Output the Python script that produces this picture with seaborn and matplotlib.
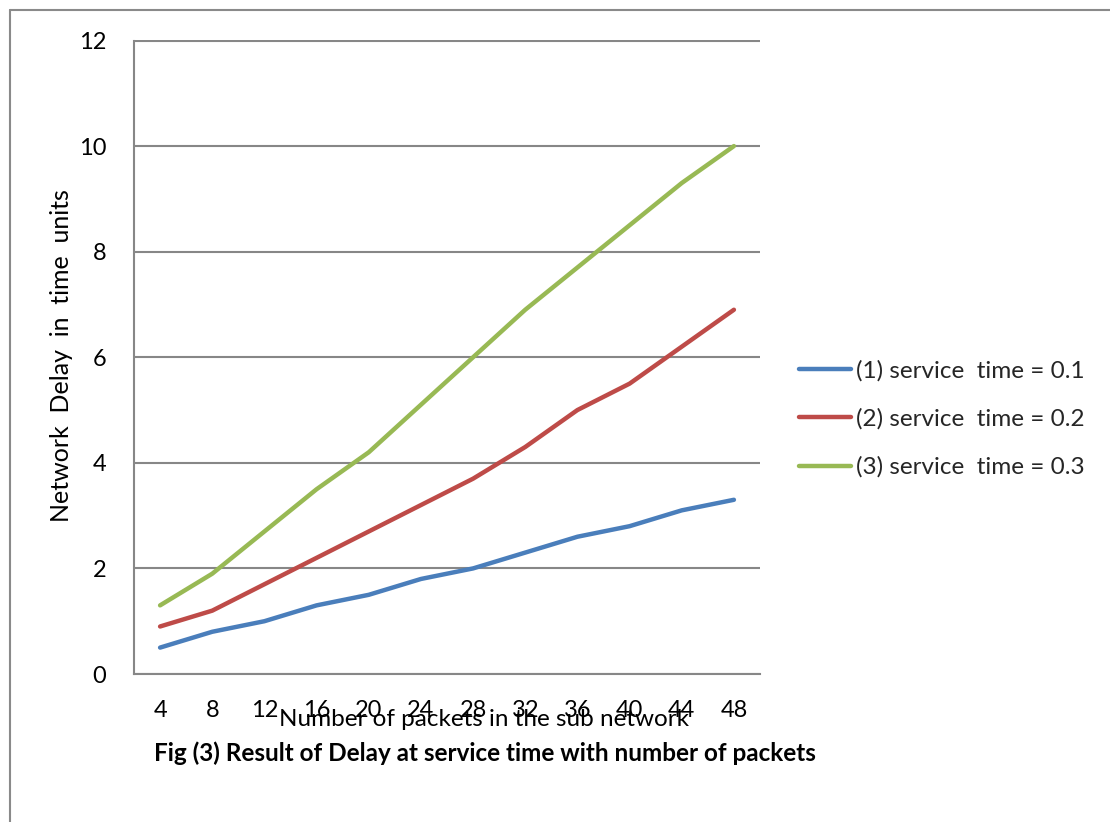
import numpy as np
import pandas as pd
import matplotlib
matplotlib.use("Agg")
import matplotlib.pyplot as plt
from matplotlib.lines import Line2D
import seaborn as sns

# Number of packets in the sub network (category axis)
packets = [4, 8, 12, 16, 20, 24, 28, 32, 36, 40, 44, 48]

# Network delay for each service time
delay_st_01 = [0.5, 0.8, 1.0, 1.3, 1.5, 1.8, 2.0, 2.3, 2.6, 2.8, 3.1, 3.3]
delay_st_02 = [0.9, 1.2, 1.7, 2.2, 2.7, 3.2, 3.7, 4.3, 5.0, 5.5, 6.2, 6.9]
delay_st_03 = [1.3, 1.9, 2.7, 3.5, 4.2, 5.1, 6.0, 6.9, 7.7, 8.5, 9.3, 10.0]

series_names = ["(1) service  time = 0.1",
                "(2) service  time = 0.2",
                "(3) service  time = 0.3"]
series_colors = ["#4A7EBB", "#BE4B48", "#98B954"]

y_ticks = [0, 2, 4, 6, 8, 10, 12]

df = pd.concat([
    pd.DataFrame({"packets": packets, "delay": vals, "series": name})
    for name, vals in zip(series_names, [delay_st_01, delay_st_02, delay_st_03])
], ignore_index=True)

sns.set_style("white")
plt.rcParams["font.family"] = ["Lato", "DejaVu Sans"]

W, H = 1110, 822
fig = plt.figure(figsize=(W / 100, H / 100), dpi=100)
ax = fig.add_axes([134 / W, 1 - 674 / H, (760 - 134) / W, (674 - 40.5) / H])

sns.lineplot(data=df, x="packets", y="delay", hue="series",
             palette=series_colors, linewidth=3.2, ax=ax,
             solid_capstyle="round", legend=False)

grid_col = "#878787"
ax.set_xlim(packets[0] - 2, packets[-1] + 2)
ax.set_ylim(0, 12)
ax.set_yticks(y_ticks)
ax.set_yticklabels([str(t) for t in y_ticks])
ax.yaxis.grid(True, color=grid_col, linewidth=1.5)
ax.xaxis.grid(False)
ax.set_axisbelow(True)

# Category labels at centres, tick marks on the category boundaries
ax.set_xticks(packets)
ax.set_xticklabels([str(p) for p in packets])
ax.set_xticks(np.arange(packets[0] - 2, packets[-1] + 3, 4), minor=True)
ax.tick_params(axis="x", which="major", length=0, pad=18.5, labelsize=17, colors="black")
ax.tick_params(axis="x", which="minor", length=7, width=1.5, color=grid_col, direction="out")
ax.tick_params(axis="y", which="major", length=7, width=1.5, color=grid_col,
               direction="out", pad=13, labelsize=17, labelcolor="black")

for side in ["top", "right"]:
    ax.spines[side].set_visible(False)
for side in ["left", "bottom"]:
    ax.spines[side].set_visible(True)
    ax.spines[side].set_color(grid_col)
    ax.spines[side].set_linewidth(1.5)

ax.set_xlabel("")
ax.set_ylabel("")

# Axis titles
fig.text(484 / W, 1 - 719 / H, "Number of packets in the sub network",
         ha="center", va="center", fontsize=17.5, color="black")
fig.text(62 / W, 1 - 356 / H, "Network  Delay  in  time  units",
         ha="center", va="center", rotation=90, fontsize=18, color="black")

# Caption
fig.text(485 / W, 1 - 753 / H,
         "Fig (3) Result of Delay at service time with number of packets",
         ha="center", va="center", fontsize=17.5, fontweight="bold", color="black")

# Legend
handles = [Line2D([0], [0], color=c, linewidth=3.2, solid_capstyle="round")
           for c in series_colors]
leg = ax.legend(handles, series_names, loc="center left",
                bbox_to_anchor=(799 / W, 1 - 419 / H), bbox_transform=fig.transFigure,
                frameon=False, fontsize=17.5, handlelength=2.15, handletextpad=0.2,
                labelspacing=1.1, borderpad=0, borderaxespad=0)

# Chart frame
frame_col = "#8a8a8a"
fig.add_artist(Line2D([9.5 / W, 9.5 / W], [0, 1 - 10.5 / H],
                      transform=fig.transFigure, color=frame_col, linewidth=1.5))
fig.add_artist(Line2D([9.5 / W, 1.0], [1 - 10.5 / H, 1 - 10.5 / H],
                      transform=fig.transFigure, color=frame_col, linewidth=1.5))

fig.savefig("out.png", dpi=100, facecolor="white")
